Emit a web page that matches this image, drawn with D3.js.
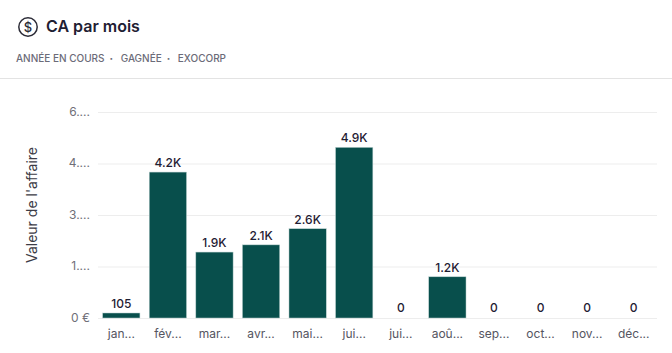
<!DOCTYPE html>
<html lang="fr">
<head>
<meta charset="utf-8">
<script src="https://cdn.jsdelivr.net/npm/d3@7"></script>
<style>
  html, body { margin: 0; padding: 0; background: #fff; }
  svg { display: block; font-family: Inter, "Noto Sans", sans-serif; }
</style>
</head>
<body>
<div id="chart"></div>
<script>
// Data
const months = ["jan...", "fév...", "mar...", "avr...", "mai...", "jui...", "jui...", "aoû...", "sep...", "oct...", "nov...", "déc..."];
const monthKeys = d3.range(12);
const values = [105, 4250, 1920, 2130, 2600, 4970, 0, 1200, 0, 0, 0, 0];
const valueLabels = ["105", "4.2K", "1.9K", "2.1K", "2.6K", "4.9K", "0", "1.2K", "0", "0", "0", "0"];
const yTicks = [0, 1500, 3000, 4500, 6000];
const yTickLabels = ["0 €", "1....", "3....", "4....", "6...."];
const subtitleParts = ["ANNÉE EN COURS", "GAGNÉE", "EXOCORP"];

const width = 672, height = 353;
const plot = { left: 98, right: 657, top: 112, bottom: 318 };
const barColor = "#084f4c";
const minBarHeight = 5;

const svg = d3.select("#chart").append("svg")
    .attr("width", width)
    .attr("height", height);

// Header
const icon = svg.append("g")
    .attr("transform", "translate(28, 27)")
    .attr("fill", "none")
    .attr("stroke", "#2b2b36")
    .attr("stroke-width", 1.5);
icon.append("circle").attr("r", 9.2);
icon.append("text")
    .attr("text-anchor", "middle")
    .attr("y", 4.5)
    .attr("font-size", 13)
    .attr("font-weight", 500)
    .attr("fill", "#2b2b36")
    .attr("stroke", "none")
    .text("$");

svg.append("text")
    .attr("x", 46)
    .attr("y", 32)
    .attr("font-size", 16)
    .attr("font-weight", 600)
    .attr("fill", "#1f2033")
    .text("CA par mois");

const subtitle = svg.append("text")
    .attr("x", 16)
    .attr("y", 62)
    .attr("font-size", 10)
    .attr("font-weight", 500)
    .attr("fill", "#6b6b78");
subtitleParts.forEach((part, i) => {
    subtitle.append("tspan").attr("dx", i ? 7.6 : 0).text(part);
    if (i < subtitleParts.length - 1) {
        subtitle.append("tspan").attr("dx", 5).attr("font-weight", 800).text("·");
    }
});

svg.append("line")
    .attr("x1", 0).attr("x2", width)
    .attr("y1", 78.5).attr("y2", 78.5)
    .attr("stroke", "#e3e3e3");

// Scales
const xScale = d3.scaleBand()
    .domain(monthKeys)
    .range([plot.left, plot.right])
    .paddingInner(0.2)
    .paddingOuter(0.1);
const yScale = d3.scaleLinear()
    .domain([0, 6000])
    .range([plot.bottom, plot.top]);

// Y axis and grid
const yAxis = svg.append("g")
    .attr("transform", `translate(${plot.left}, 0)`)
    .call(d3.axisLeft(yScale)
        .tickValues(yTicks)
        .tickFormat((d, i) => yTickLabels[i])
        .tickSize(0)
        .tickPadding(8));
yAxis.select(".domain").remove();
yAxis.selectAll("text")
    .attr("font-size", 12)
    .attr("font-family", "Inter, sans-serif")
    .attr("fill", "#6f6f78")
    .attr("dy", "0.28em");
yAxis.selectAll(".tick line")
    .attr("x2", plot.right - plot.left)
    .attr("stroke", "#ededed")
    .attr("stroke-width", 1.2);

svg.append("text")
    .attr("transform", `translate(37, ${(plot.top + plot.bottom) / 2 - 10}) rotate(-90)`)
    .attr("text-anchor", "middle")
    .attr("font-size", 14)
    .attr("fill", "#3c3c46")
    .text("Valeur de l'affaire");

// Bars
svg.selectAll("rect.bar")
    .data(monthKeys.filter(i => values[i] > 0))
    .enter()
    .append("rect")
    .attr("class", "bar")
    .attr("x", i => xScale(i))
    .attr("width", xScale.bandwidth())
    .attr("y", i => Math.min(yScale(values[i]), plot.bottom - minBarHeight))
    .attr("height", i => Math.max(plot.bottom - yScale(values[i]), minBarHeight))
    .attr("fill", barColor)
    .attr("stroke", "#b9cfce")
    .attr("stroke-width", 0.5);

// Value labels
svg.selectAll("text.value")
    .data(monthKeys)
    .enter()
    .append("text")
    .attr("class", "value")
    .attr("x", i => xScale(i) + xScale.bandwidth() / 2)
    .attr("y", i => values[i] > 0
        ? Math.min(yScale(values[i]), plot.bottom - minBarHeight) - 5
        : plot.bottom - 6)
    .attr("text-anchor", "middle")
    .attr("font-size", 12)
    .attr("font-weight", 500)
    .attr("fill", "#1f2033")
    .text(i => valueLabels[i]);

// X axis labels
const xAxis = svg.append("g")
    .attr("transform", `translate(0, ${plot.bottom})`)
    .call(d3.axisBottom(xScale)
        .tickFormat(i => months[i])
        .tickSize(0)
        .tickPadding(11));
xAxis.select(".domain").remove();
xAxis.selectAll("text")
    .attr("font-size", 12)
    .attr("font-family", "Inter, sans-serif")
    .attr("fill", "#55555f");
</script>
</body>
</html>
